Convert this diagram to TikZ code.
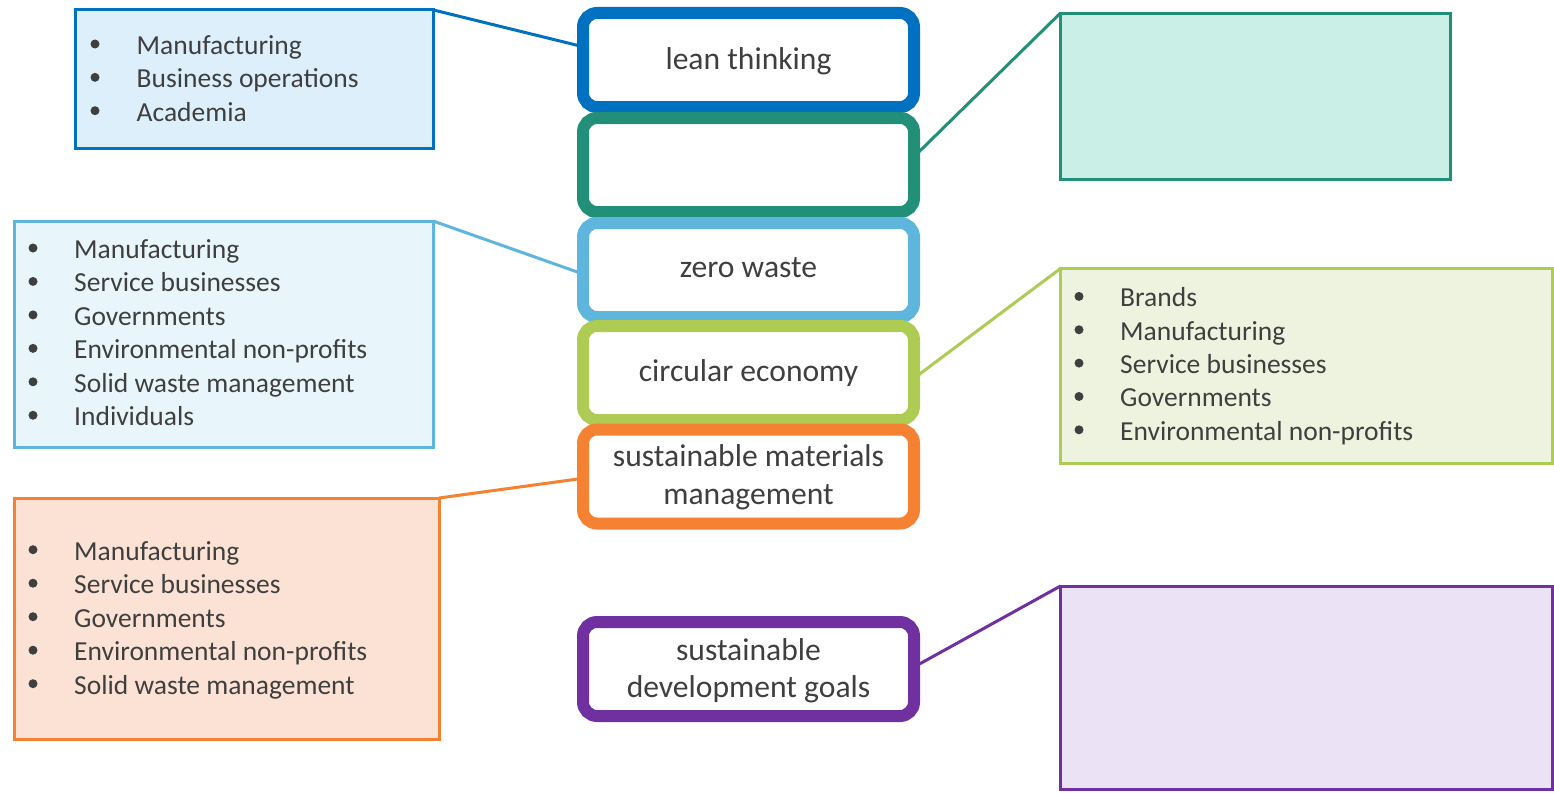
\documentclass[tikz,border=0pt]{standalone}
\usepackage{fontspec}
\setmainfont{Carlito}
\usetikzlibrary{calc}
\definecolor{txt}{HTML}{3F3F3F}
\definecolor{cBlue}{HTML}{0070C0}
\definecolor{fBlue}{HTML}{DDEFFB}
\definecolor{cTeal}{HTML}{229079}
\definecolor{fTeal}{HTML}{C9EFE6}
\definecolor{cSky}{HTML}{5FB6DD}
\definecolor{fSky}{HTML}{E8F5FA}
\definecolor{cLime}{HTML}{AECB53}
\definecolor{fLime}{HTML}{EEF3DF}
\definecolor{cOrange}{HTML}{F58233}
\definecolor{fOrange}{HTML}{FBE2D5}
\definecolor{cPurple}{HTML}{7030A0}
\definecolor{fPurple}{HTML}{EBE3F5}
\begin{document}
\begin{tikzpicture}[x=1pt,y=-1pt,
  cbox/.style={draw=#1, line width=12pt, rounded corners=14pt, fill=white,
    minimum width=331pt, minimum height=94pt, inner sep=0pt, outer sep=0pt},
  lbox/.style 2 args={draw=#1, fill=#2, line width=3pt, inner sep=0pt, outer sep=0pt},
  itm/.style={anchor=base west, inner sep=0pt, text=txt,
    font=\fontsize{27.5}{33.4}\selectfont},
  ctxt/.style={anchor=base, inner sep=0pt, text=txt,
    font=\fontsize{31.6}{38}\selectfont},
  conn/.style={draw=#1, line width=3pt},
  bul/.style={circle, fill=txt, inner sep=0pt, minimum size=9pt}
]
\useasboundingbox (0,0) rectangle (1554,792);
\fill[white] (0,0) rectangle (1554,792);

% side boxes
\node[lbox={cBlue}{fBlue}, minimum width=358pt, minimum height=138.5pt] (b1) at (254.5,79.25) {};
\node[lbox={cSky}{fSky}, minimum width=419pt, minimum height=226pt] (b2) at (223.5,334) {};
\node[lbox={cOrange}{fOrange}, minimum width=425pt, minimum height=241pt] (b3) at (226.5,618.5) {};
\node[lbox={cTeal}{fTeal}, minimum width=390pt, minimum height=165.5pt] (r1) at (1255,96.25) {};
\node[lbox={cLime}{fLime}, minimum width=491.5pt, minimum height=194.5pt] (r2) at (1306.25,365.75) {};
\node[lbox={cPurple}{fPurple}, minimum width=491.5pt, minimum height=203pt] (r3) at (1306.25,687.5) {};

% connector end points on the central boxes
\coordinate (leanW) at (583,46.7);
\coordinate (tealE) at (914,156.7);
\coordinate (zwW) at (583,274);
\coordinate (ceE) at (914,378.3);
\coordinate (smmW) at (583,478.3);
\coordinate (sdgE) at (914,667);

% connectors
\draw[conn=cBlue] (b1.north east) -- (leanW);
\draw[conn=cTeal] (tealE) -- (r1.north west);
\draw[conn=cSky] (b2.north east) -- (zwW);
\draw[conn=cLime] (ceE) -- (r2.north west);
\draw[conn=cOrange] (b3.north east) -- (smmW);
\draw[conn=cPurple] (sdgE) -- (r3.north west);

% central boxes
\node[cbox=cBlue] (lean) at (748.5,60) {};
\node[cbox=cTeal] (teal) at (748.5,165) {};
\node[cbox=cSky] (zw) at (748.5,270) {};
\node[cbox=cLime] (ce) at (748.5,373) {};
\node[cbox=cOrange] (smm) at (748.5,476.5) {};
\node[cbox=cPurple] (sdg) at (748.5,669) {};

\node[ctxt] (leanT) at (748.5,70) {lean thinking};
\node[ctxt] (zwT) at (748.5,277) {zero waste};
\node[ctxt] (ceT) at (748.5,381) {circular economy};
\node[ctxt] (smmT1) at (748.5,466.7) {sustainable materials};
\node[ctxt] (smmT2) at (748.5,504.5) {management};
\node[ctxt] (sdgT1) at (748.5,660) {sustainable};
\node[ctxt] (sdgT2) at (748.5,697) {development goals};

% lists
\foreach \t [count=\i from 0] in {Manufacturing, Business operations, Academia}{
  \node[bul] (ba\i) at (95,54.3+\i*33.35-10.3) {};
  \node[itm] (ta\i) at (136.5,54.3+\i*33.35) {\t};
}
\foreach \t [count=\i from 0] in {Manufacturing, Service businesses, Governments, Environmental non-profits, Solid waste management, Individuals}{
  \node[bul] (bb\i) at (33,258.3+\i*33.45-10.3) {};
  \node[itm] (tb\i) at (74,258.3+\i*33.45) {\t};
}
\foreach \t [count=\i from 0] in {Manufacturing, Service businesses, Governments, Environmental non-profits, Solid waste management}{
  \node[bul] (bc\i) at (33,560+\i*33.5-10.3) {};
  \node[itm] (tc\i) at (74,560+\i*33.5) {\t};
}
\foreach \t [count=\i from 0] in {Brands, Manufacturing, Service businesses, Governments, Environmental non-profits}{
  \node[bul] (bd\i) at (1079,306.7+\i*33.35-10.3) {};
  \node[itm] (td\i) at (1120,306.7+\i*33.35) {\t};
}
\end{tikzpicture}
\end{document}
